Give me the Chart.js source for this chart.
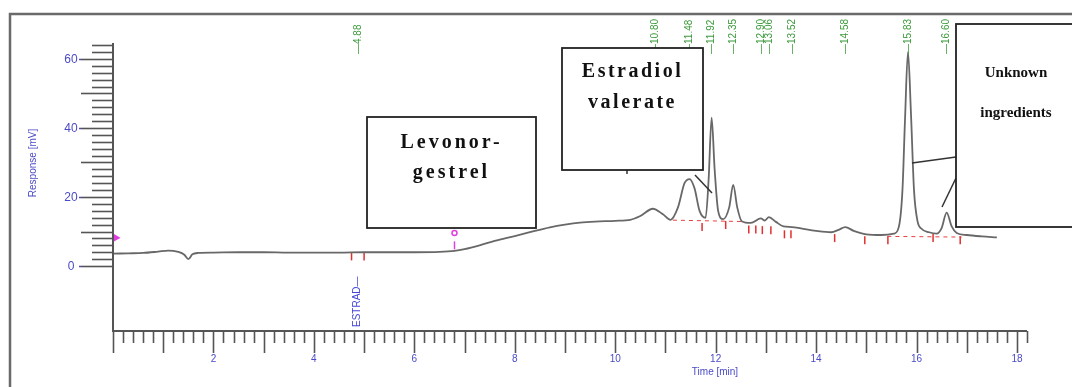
<!DOCTYPE html>
<html>
<head>
<meta charset="utf-8">
<script src="https://cdn.jsdelivr.net/npm/chart.js@4.4.1/dist/chart.umd.min.js"></script>
<style>
    html, body { margin: 0; padding: 0; background: #fff; }
    #wrap { width: 1072px; height: 387px; position: relative; }
</style>
</head>
<body>
<div id="wrap"><canvas id="chromChart"></canvas></div>
<script>
// chromatogram trace (time in min, response in mV)
const times = [0, 0.3, 0.6, 0.9, 1.1, 1.3, 1.42, 1.5, 1.58, 1.7, 2.0, 2.5, 3.0, 3.5, 4.0, 4.5, 5.0, 5.5, 6.0, 6.5,
    6.8, 7.0, 7.3, 7.6, 8.0, 8.3, 8.7, 9.0, 9.3, 9.6, 10.0, 10.3, 10.5, 10.75, 10.95, 11.1, 11.25, 11.38, 11.48, 11.58,
    11.68, 11.8, 11.86, 11.92, 11.98, 12.05, 12.15, 12.27, 12.35, 12.43, 12.52, 12.7, 12.9, 12.98, 13.06, 13.2, 13.35, 13.52,
    13.7, 14.0, 14.3, 14.45, 14.58, 14.75, 15.0, 15.3, 15.55, 15.65, 15.72, 15.77, 15.83, 15.89, 15.95, 16.02, 16.1, 16.25,
    16.4, 16.5, 16.6, 16.7, 16.8, 17.0, 17.3, 17.6];
const response = [3.6, 3.7, 3.8, 4.2, 4.5, 4.1, 3.3, 2.0, 3.4, 3.8, 3.9, 4.0, 4.0, 3.9, 3.9, 3.9, 4.0, 4.0, 4.0, 4.1,
    4.4, 4.9, 6.0, 7.3, 8.7, 9.8, 11.2, 12.0, 12.6, 12.9, 13.1, 13.4, 14.5, 16.6, 15.0, 13.4, 17, 24, 25.2, 22.5,
    16, 14.0, 25, 43, 28, 16, 13.6, 17, 23.5, 17, 13.0, 12.5, 13.8, 13.2, 14.2, 12.8, 11.5, 11.3,
    10.9, 10.2, 9.8, 10.5, 11.3, 10.2, 9.2, 9.0, 9.4, 11.5, 22, 42, 62, 44, 22, 13, 10.8, 9.8,
    9.4, 11, 15.5, 11.5, 9.6, 9.0, 8.6, 8.3];

// retention time labels at the top
const peakTimes = [4.88, 10.80, 11.48, 11.92, 12.35, 12.90, 13.06, 13.52, 14.58, 15.83, 16.60];
const peakLabels = ['4.88', '10.80', '11.48', '11.92', '12.35', '12.90', '13.06', '13.52', '14.58', '15.83', '16.60'];

// integration marks and baseline
const markerTimes = [4.75, 5.0, 11.73, 12.2, 12.66, 12.8, 12.93, 13.1, 13.37, 13.5, 14.37, 14.97, 15.43, 16.33, 16.87];
const markerValues = [2.8, 2.8, 11.3, 11.9, 10.6, 10.6, 10.4, 10.4, 9.2, 9.2, 8.1, 7.5, 7.5, 8.1, 7.5];
const baseTimes = [11.15, 12.55, 13.0, 15.42, 16.9];
const baseValues = [13.3, 12.9, null, 8.6, 8.4];

// event marks (magenta)
const eventTimes = [0.04, 6.8, 6.8];
const eventValues = [8.2, 9.6, 6.0];

const xTickLabels = ['2', '4', '6', '8', '10', '12', '14', '16', '18'];
const yTickLabels = ['0', '20', '40', '60'];

const axisBlue = '#4a4ac8';

const boxes = [
    { left: 367, top: 117, right: 536, bottom: 228, lines: ['Levonor-', 'gestrel'], ys: [143, 173], size: 20, spacing: '3px' },
    { left: 562, top: 48, right: 703, bottom: 170, lines: ['Estradiol', 'valerate'], ys: [72, 103], size: 20, spacing: '2.5px' },
    { left: 956, top: 24, right: 1090, bottom: 227, lines: ['Unknown', 'ingredients'], ys: [73, 113], size: 15, spacing: '0px', cx: 1016 }
];
const pointers = [
    [695, 175, 712, 193],
    [912, 163, 956, 157],
    [942, 207, 956, 178],
    [627, 170, 627, 174]
];

const overlayPlugin = {
    id: 'chromOverlay',
    afterDraw(chart) {
        const ctx = chart.ctx;
        const xs = chart.scales.x;
        const ys = chart.scales.y;
        const area = chart.chartArea;
        const x0 = xs.getPixelForValue(0);
        const yAxisBottom = area.bottom;

        ctx.save();

        // outer frame
        ctx.strokeStyle = '#6a6a6a';
        ctx.lineWidth = 2.5;
        ctx.strokeRect(10, 14, 1100, 420);

        // axes
        ctx.strokeStyle = '#555';
        ctx.lineWidth = 2;
        ctx.beginPath();
        ctx.moveTo(x0, area.top);
        ctx.lineTo(x0, yAxisBottom);
        ctx.lineTo(xs.getPixelForValue(18.2), yAxisBottom);
        ctx.stroke();

        // y ticks
        ctx.lineWidth = 1.6;
        ctx.font = '12px "Liberation Sans"';
        ctx.fillStyle = axisBlue;
        ctx.textAlign = 'center';
        ctx.textBaseline = 'middle';
        for (let v = 0; v <= 64; v += 2) {
            const py = Math.round(ys.getPixelForValue(v)) + 0.5;
            let len = 21;
            if (v % 10 === 0) len = 32;
            ctx.strokeStyle = '#555';
            ctx.beginPath();
            ctx.moveTo(x0, py);
            ctx.lineTo(x0 - len, py);
            ctx.stroke();
            if (v % 20 === 0) {
                ctx.strokeStyle = axisBlue;
                ctx.beginPath();
                ctx.moveTo(x0 - len, py);
                ctx.lineTo(x0 - 34, py);
                ctx.stroke();
                ctx.fillText(yTickLabels[v / 20], x0 - 42, py);
            }
        }

        // x ticks
        ctx.strokeStyle = '#555';
        for (let i = 0; i <= 91; i++) {
            const t = i * 0.2;
            const px = Math.round(xs.getPixelForValue(t)) + 0.5;
            const len = (i % 5 === 0) ? 22 : 12;
            ctx.beginPath();
            ctx.moveTo(px, yAxisBottom);
            ctx.lineTo(px, yAxisBottom + len);
            ctx.stroke();
        }
        ctx.font = '10px "Liberation Sans"';
        xTickLabels.forEach(function (lab) {
            ctx.fillText(lab, xs.getPixelForValue(Number(lab)), yAxisBottom + 28);
        });

        // axis titles
        ctx.fillText('Time [min]', 715, 372);
        ctx.save();
        ctx.translate(33, 163);
        ctx.rotate(-Math.PI / 2);
        ctx.fillText('Response [mV]', 0, 0);
        ctx.restore();

        // ESTRAD label
        ctx.save();
        ctx.translate(xs.getPixelForValue(4.86), 327);
        ctx.rotate(-Math.PI / 2);
        ctx.textAlign = 'left';
        ctx.fillStyle = '#4545d8';
        ctx.fillText('ESTRAD\u2014', 0, 0);
        ctx.restore();

        // retention time labels
        ctx.fillStyle = '#3c9a3c';
        ctx.font = '10px "Liberation Sans Narrow", "Liberation Sans"';
        peakTimes.forEach(function (t, i) {
            ctx.save();
            ctx.translate(xs.getPixelForValue(t), 54);
            ctx.rotate(-Math.PI / 2);
            ctx.textAlign = 'left';
            ctx.fillText('\u2014' + peakLabels[i], 0, 0);
            ctx.restore();
        });

        // pointer lines
        ctx.strokeStyle = '#333';
        ctx.lineWidth = 1.5;
        pointers.forEach(function (p) {
            ctx.beginPath();
            ctx.moveTo(p[0], p[1]);
            ctx.lineTo(p[2], p[3]);
            ctx.stroke();
        });

        // annotation boxes
        boxes.forEach(function (b) {
            ctx.fillStyle = '#fff';
            ctx.fillRect(b.left, b.top, b.right - b.left, b.bottom - b.top);
            ctx.strokeStyle = '#222';
            ctx.lineWidth = 1.8;
            ctx.strokeRect(b.left, b.top, b.right - b.left, b.bottom - b.top);
            ctx.fillStyle = '#111';
            ctx.font = 'bold ' + b.size + 'px "Liberation Serif"';
            ctx.letterSpacing = b.spacing;
            ctx.textAlign = 'center';
            const cx = b.cx || (b.left + b.right) / 2;
            b.lines.forEach(function (line, k) {
                ctx.fillText(line, cx, b.ys[k]);
            });
            ctx.letterSpacing = '0px';
        });

        ctx.restore();
    }
};

new Chart(document.getElementById('chromChart'), {
    type: 'line',
    data: {
        datasets: [{
            label: 'Trace',
            data: times.map((t, i) => ({ x: t, y: response[i] })),
            borderColor: '#686868',
            borderWidth: 1.8,
            pointRadius: 0,
            cubicInterpolationMode: 'monotone',
            order: 1
        }, {
            label: 'Baseline',
            data: baseTimes.map((t, i) => ({ x: t, y: baseValues[i] })),
            borderColor: '#e84040',
            borderWidth: 1,
            borderDash: [4, 4],
            pointRadius: 0,
            spanGaps: false,
            order: 2
        }, {
            type: 'scatter',
            label: 'Marks',
            data: markerTimes.map((t, i) => ({ x: t, y: markerValues[i] })),
            pointStyle: 'line',
            rotation: 90,
            radius: 4,
            borderColor: '#e03030',
            borderWidth: 1.5,
            order: 2
        }, {
            type: 'scatter',
            label: 'Events',
            data: eventTimes.map((t, i) => ({ x: t, y: eventValues[i] })),
            pointStyle: ['triangle', 'circle', 'line'],
            rotation: [90, 0, 90],
            radius: [4, 2.5, 4],
            borderColor: '#e040e0',
            backgroundColor: ['#e040e0', 'rgba(0,0,0,0)', '#e040e0'],
            borderWidth: 1.5,
            order: 0
        }]
    },
    options: {
        responsive: true,
        maintainAspectRatio: false,
        animation: false,
        layout: {
            padding: { left: 113, right: 45, top: 43, bottom: 56 }
        },
        scales: {
            x: { type: 'linear', min: 0, max: 18.2, display: false },
            y: { type: 'linear', min: -18.8, max: 64.6, display: false }
        },
        plugins: {
            legend: { display: false },
            tooltip: { enabled: false }
        }
    },
    plugins: [overlayPlugin]
});
</script>
</body>
</html>
